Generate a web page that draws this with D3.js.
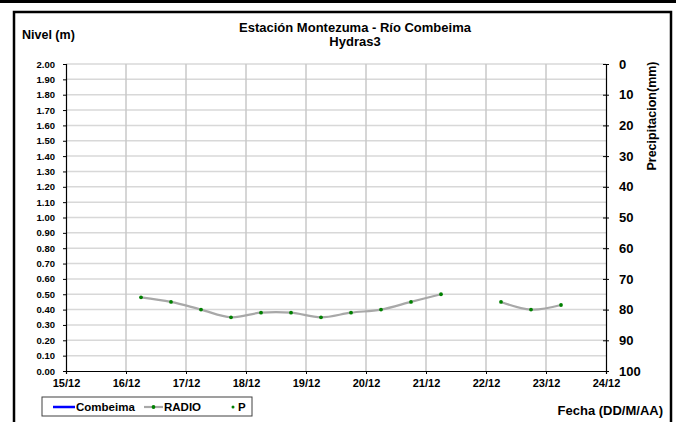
<!DOCTYPE html>
<html>
<head>
<meta charset="utf-8">
<script src="https://cdn.jsdelivr.net/npm/d3@7"></script>
<style>
  body { margin: 0; background: #fff; }
  svg { display: block; font-family: 'Liberation Sans', Arial, sans-serif; font-weight: bold; }
</style>
</head>
<body>
<svg id="chart" width="676" height="422"></svg>
<script>
// Nivel (m) readings every 12 h, null = no reading
const fechas = [
    '2010-12-16T06:00', '2010-12-16T18:00', '2010-12-17T06:00', '2010-12-17T18:00',
    '2010-12-18T06:00', '2010-12-18T18:00', '2010-12-19T06:00', '2010-12-19T18:00',
    '2010-12-20T06:00', '2010-12-20T18:00', '2010-12-21T06:00', '2010-12-21T18:00',
    '2010-12-22T06:00', '2010-12-22T18:00', '2010-12-23T06:00'
];
const radio = [0.48, 0.45, 0.40, 0.35, 0.38, 0.38, 0.35, 0.38, 0.40, 0.45, 0.50, null, 0.45, 0.40, 0.43];
const dias = ['2010-12-15', '2010-12-16', '2010-12-17', '2010-12-18', '2010-12-19',
    '2010-12-20', '2010-12-21', '2010-12-22', '2010-12-23', '2010-12-24'];
const nivelTicks = d3.range(0, 21).map(function(d) { return d / 10; });
const precipTicks = [0, 10, 20, 30, 40, 50, 60, 70, 80, 90, 100];
const leyenda = ['Combeima', 'RADIO', 'P'];

(function() {
    'use strict';

    let svg = d3.select('#chart');
    let parse = d3.timeParse('%Y-%m-%dT%H:%M');
    let parseDay = d3.timeParse('%Y-%m-%d');
    let days = dias.map(parseDay);

    let left = 66, right = 606, top = 64, bottom = 371;

    let x = d3.scaleTime()
        .domain([days[0], days[days.length - 1]])
        .range([left, right]);
    let y = d3.scaleLinear().domain([0, 2]).range([bottom, top]);
    let yP = d3.scaleLinear().domain([0, 100]).range([top, bottom]);

    // frame
    svg.append('rect').attr('x', 0).attr('y', 0).attr('width', 676).attr('height', 3).attr('fill', '#000');
    svg.append('rect')
        .attr('x', 14).attr('y', 12).attr('width', 657).attr('height', 430)
        .attr('fill', 'none').attr('stroke', '#000').attr('stroke-width', 2.5);

    // grid
    svg.append('g').selectAll('line')
        .data(nivelTicks.slice(1))
        .enter().append('line')
        .attr('x1', left).attr('x2', right)
        .attr('y1', function(d) { return y(d); })
        .attr('y2', function(d) { return y(d); })
        .attr('stroke', '#d8d8d8').attr('stroke-width', 1.5);
    svg.append('g').selectAll('line')
        .data(days.slice(1, -1))
        .enter().append('line')
        .attr('x1', function(d) { return x(d); })
        .attr('x2', function(d) { return x(d); })
        .attr('y1', top).attr('y2', bottom)
        .attr('stroke', '#c8c8c8').attr('stroke-width', 1.5);

    // axes
    let axL = svg.append('g')
        .attr('transform', 'translate(' + left + ',0)')
        .call(d3.axisLeft(y).tickValues(nivelTicks).tickFormat(d3.format('.2f')).tickSize(3).tickPadding(8));
    axL.selectAll('text').style('font-size', '9.5px');

    let axR = svg.append('g')
        .attr('transform', 'translate(' + right + ',0)')
        .call(d3.axisRight(yP).tickValues(precipTicks).tickSize(3).tickPadding(10));
    axR.selectAll('text').style('font-size', '13px');
    axR.selectAll('.tick line').attr('x1', -3);

    let axB = svg.append('g')
        .attr('transform', 'translate(0,' + bottom + ')')
        .call(d3.axisBottom(x).tickValues(days).tickFormat(d3.timeFormat('%d/%m')).tickSize(3).tickPadding(5));
    axB.selectAll('text').style('font-size', '11px');

    svg.selectAll('.domain').attr('stroke', '#000').attr('stroke-width', 1.2);
    svg.selectAll('.tick line').attr('stroke', '#000');
    svg.selectAll('.tick text').attr('fill', '#000');
    svg.selectAll('g').attr('font-family', null);

    // series
    let pts = fechas.map(function(f, i) { return { t: parse(f), v: radio[i] }; });
    let line = d3.line()
        .defined(function(d) { return d.v !== null; })
        .x(function(d) { return x(d.t); })
        .y(function(d) { return y(d.v); })
        .curve(d3.curveCatmullRom.alpha(0));
    svg.append('path')
        .datum(pts)
        .attr('d', line)
        .attr('fill', 'none')
        .attr('stroke', '#a8a8a8')
        .attr('stroke-width', 2.2);
    svg.append('g').selectAll('circle')
        .data(pts.filter(function(d) { return d.v !== null; }))
        .enter().append('circle')
        .attr('cx', function(d) { return x(d.t); })
        .attr('cy', function(d) { return y(d.v); })
        .attr('r', 1.9)
        .attr('fill', '#008000');

    // titles
    svg.append('text').attr('x', 355).attr('y', 32).attr('text-anchor', 'middle')
        .style('font-size', '13px').text('Estación Montezuma - Río Combeima');
    svg.append('text').attr('x', 355).attr('y', 45.5).attr('text-anchor', 'middle')
        .style('font-size', '13px').text('Hydras3');
    svg.append('text').attr('x', 22).attr('y', 39)
        .style('font-size', '12.5px').text('Nivel (m)');
    svg.append('text')
        .attr('transform', 'translate(656,116) rotate(-90)')
        .attr('text-anchor', 'middle')
        .style('font-size', '12.5px').text('Precipitacion(mm)');
    svg.append('text').attr('x', 663).attr('y', 415).attr('text-anchor', 'end')
        .style('font-size', '13px').text('Fecha (DD/M/AA)');

    // legend
    let lg = svg.append('g');
    lg.append('rect').attr('x', 42).attr('y', 397).attr('width', 210).attr('height', 19)
        .attr('fill', '#fff').attr('stroke', '#404040').attr('stroke-width', 1);
    let lgX = [53, 144, 228];
    let lgText = [76, 164, 238];
    lg.append('line').attr('x1', lgX[0]).attr('x2', lgX[0] + 22).attr('y1', 407).attr('y2', 407)
        .attr('stroke', '#0000ff').attr('stroke-width', 2.5);
    lg.append('line').attr('x1', lgX[1]).attr('x2', lgX[1] + 19).attr('y1', 407).attr('y2', 407)
        .attr('stroke', '#a8a8a8').attr('stroke-width', 2.2);
    lg.append('circle').attr('cx', lgX[1] + 9.5).attr('cy', 407).attr('r', 1.9).attr('fill', '#008000');
    lg.append('circle').attr('cx', lgX[2] + 5).attr('cy', 407).attr('r', 1.5).attr('fill', '#008000');
    lg.selectAll('text.lg')
        .data(leyenda)
        .enter().append('text')
        .attr('class', 'lg')
        .attr('x', function(d, i) { return lgText[i]; })
        .attr('y', 411)
        .style('font-size', '11.5px')
        .text(function(d) { return d; });
})();
</script>
</body>
</html>
